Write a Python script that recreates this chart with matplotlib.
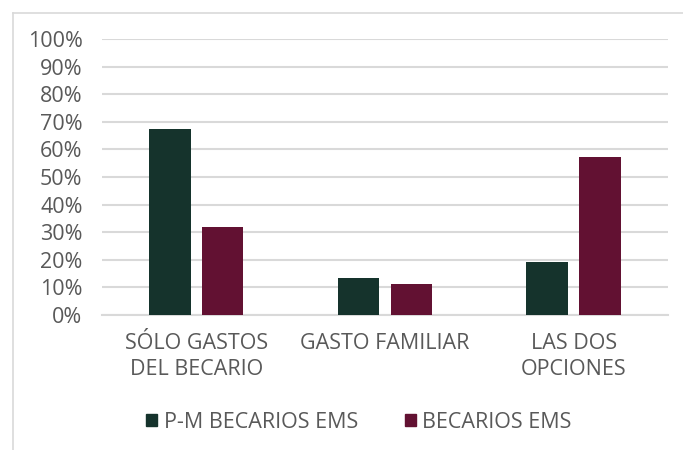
import numpy as np
import matplotlib.pyplot as plt
from matplotlib.lines import Line2D

categories = ['SÓLO GASTOS\nDEL BECARIO', 'GASTO FAMILIAR', 'LAS DOS\nOPCIONES']
pm_becarios = [0.673, 0.134, 0.193]
becarios = [0.318, 0.111, 0.574]
series_names = ['P-M BECARIOS EMS', 'BECARIOS EMS']

green = '#15332c'
maroon = '#621132'
gray = '#595959'
grid = '#d9d9d9'

plt.rcParams['font.family'] = ['Open Sans', 'DejaVu Sans']
fs = 15.5

fig = plt.figure(figsize=(6.83, 4.5), dpi=100)
ax = fig.add_axes([102/683, 1 - 315/450, 566/683, 276/450])

x = np.arange(len(categories))
w = 0.22
gap = 0.06
ax.bar(x - (w + gap) / 2, pm_becarios, w, color=green, label=series_names[0], zorder=3)
ax.bar(x + (w + gap) / 2, becarios, w, color=maroon, label=series_names[1], zorder=3)

ax.set_xlim(-0.5, 2.5)
ax.set_ylim(0, 1.0)
ticks = np.arange(0, 1.01, 0.1)
ax.set_yticks(ticks)
ax.set_yticklabels([f'{int(round(v*100))}%' for v in ticks])
ax.set_xticks(x)
ax.set_xticklabels(categories, linespacing=1.3)
ax.yaxis.grid(True, color=grid, lw=1.5, zorder=0)
for s in ['top', 'right', 'left']:
    ax.spines[s].set_visible(False)
ax.spines['bottom'].set_color(grid)
ax.spines['bottom'].set_linewidth(1.5)
ax.tick_params(axis='both', length=0, labelsize=fs, colors=gray)
ax.tick_params(axis='y', pad=14)
ax.tick_params(axis='x', pad=13)

handles = [plt.Rectangle((0, 0), 1, 1, color=green), plt.Rectangle((0, 0), 1, 1, color=maroon)]
leg = fig.legend(handles, series_names, loc='center', bbox_to_anchor=(359/683, 1 - 422/450),
                 ncol=2, frameon=False, fontsize=fs, labelcolor=gray,
                 handlelength=0.5, handleheight=0.5, handletextpad=0.3, columnspacing=2.2)

# outer border (top and left only, as cropped in the source)
fig.add_artist(Line2D([13/683, 1], [1 - 13/450, 1 - 13/450], color=grid, lw=1.2))
fig.add_artist(Line2D([13/683, 13/683], [0, 1 - 13/450], color=grid, lw=1.2))

fig.savefig('out.png', dpi=100)
